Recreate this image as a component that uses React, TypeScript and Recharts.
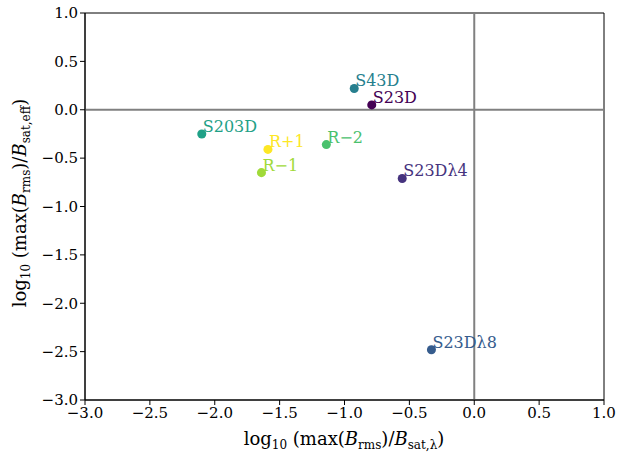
import React from "react";
import {
  ScatterChart,
  Scatter,
  XAxis,
  YAxis,
  ZAxis,
  ReferenceLine,
  ReferenceArea,
  Cell,
  LabelList,
  Label,
} from "recharts";

// runs
const runNames = ["S23D", "S23Dλ4", "S23Dλ8", "S43D", "S203D", "R−2", "R−1", "R+1"];
const xValues = [-0.79, -0.555, -0.33, -0.925, -2.1, -1.14, -1.64, -1.59];
const yValues = [0.05, -0.71, -2.48, 0.22, -0.25, -0.36, -0.65, -0.41];
const runColors = ["#440154", "#46337e", "#365c8d", "#277f8e", "#1fa187", "#4ac16d", "#a0da39", "#fde725"];

const axisTicks = [-3, -2.5, -2, -1.5, -1, -0.5, 0, 0.5, 1];

const points = runNames.map((name, i) => ({
  name,
  x: xValues[i],
  y: yValues[i],
  color: runColors[i],
}));

const FONT = "'DejaVu Serif', serif";
const fmt = (v: number) => (v < 0 ? "−" : "") + Math.abs(v).toFixed(1);

function RunLabel(props: any) {
  const { x, y, width, height, index } = props;
  const cx = x + width / 2;
  const cy = y + height / 2;
  return (
    <text x={cx + 1} y={cy - 2} fill={runColors[index]} fontFamily={FONT} fontSize={16}>
      {runNames[index]}
    </text>
  );
}

function Title({ sub }: { sub: string }) {
  return (
    <>
      log<tspan dy={4} fontSize={12}>10</tspan>
      <tspan dy={-4}> (max(</tspan>
      <tspan fontStyle="italic">B</tspan>
      <tspan dy={4} fontSize={12}>rms</tspan>
      <tspan dy={-4}>)/</tspan>
      <tspan fontStyle="italic">B</tspan>
      <tspan dy={4} fontSize={12}>{sub}</tspan>
      <tspan dy={-4}>)</tspan>
    </>
  );
}

function XTitle() {
  return (
    <text x={344} y={445} textAnchor="middle" fontFamily={FONT} fontSize={18} fill="#000">
      <Title sub="sat,λ" />
    </text>
  );
}

function YTitle() {
  return (
    <text
      x={0}
      y={0}
      transform="translate(26 203) rotate(-90)"
      textAnchor="middle"
      fontFamily={FONT}
      fontSize={18}
      fill="#000"
    >
      <Title sub="sat,eff" />
    </text>
  );
}

export default function App() {
  return (
    <div style={{ position: "absolute", left: 0, top: 0, background: "#fff" }}>
      <ScatterChart
        width={619}
        height={456}
        margin={{ top: 13, right: 15, bottom: 0, left: 0 }}
      >
        <XAxis
          type="number"
          dataKey="x"
          domain={[-3, 1]}
          ticks={axisTicks}
          tickFormatter={fmt}
          height={56}
          tickSize={5}
          stroke="#000"
          tick={{ fill: "#000", fontFamily: FONT, fontSize: 15 }}
          allowDataOverflow
        >
          <Label content={<XTitle />} />
        </XAxis>
        <YAxis
          type="number"
          dataKey="y"
          domain={[-3, 1]}
          ticks={axisTicks}
          tickFormatter={fmt}
          width={85}
          tickSize={5}
          stroke="#000"
          tick={{ fill: "#000", fontFamily: FONT, fontSize: 15 }}
          allowDataOverflow
        >
          <Label content={<YTitle />} />
        </YAxis>
        <ZAxis range={[85, 85]} />
        <ReferenceArea x1={-3} x2={1} y1={-3} y2={1} fill="none" stroke="#000" strokeWidth={1} />
        <ReferenceLine x={0} stroke="#808080" strokeWidth={2} />
        <ReferenceLine y={0} stroke="#808080" strokeWidth={2} />
        <Scatter data={points} isAnimationActive={false} shape="circle">
          {points.map((p) => (
            <Cell key={p.name} fill={p.color} />
          ))}
          <LabelList dataKey="name" content={<RunLabel />} />
        </Scatter>
      </ScatterChart>
    </div>
  );
}
